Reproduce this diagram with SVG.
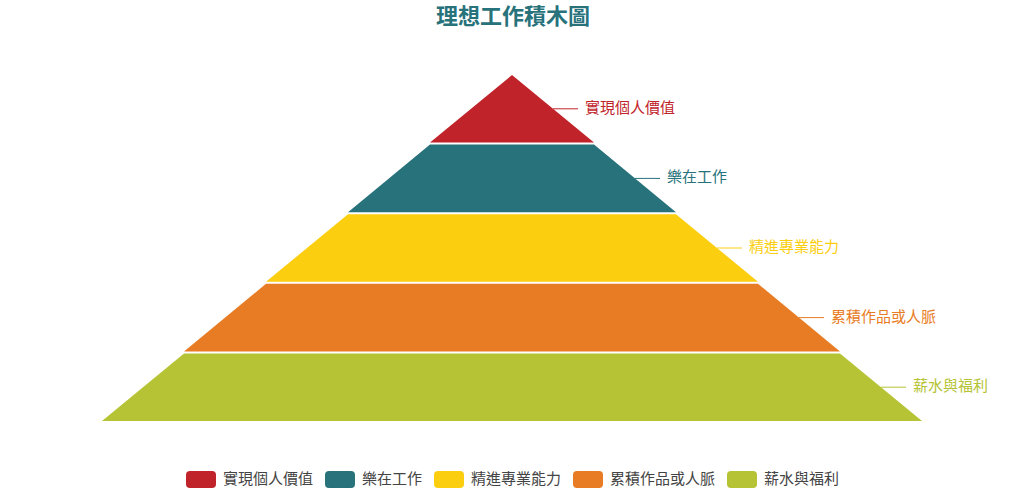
<svg xmlns="http://www.w3.org/2000/svg" width="1024" height="496" viewBox="0 0 1024 496">
<style>
text{font-family:"Liberation Sans","Noto Sans CJK TC",sans-serif;}
.title{font-size:22px;font-weight:bold;fill:#27727b;}
.lbl{font-size:15px;}
.leg{font-size:15px;fill:#444;}
.ll{stroke-width:1;fill:none;}
</style>
<rect width="1024" height="496" fill="#fff"/>
<text class="title" x="513" y="24" text-anchor="middle">理想工作積木圖</text>
<g id="layer1">
<polygon points="512,75 512,75 594,142.6 430,142.6" fill="#c1232b"/>
<text class="lbl" x="585" y="109" dominant-baseline="middle" fill="#c1232b">實現個人價值</text>
</g>
<g id="layer2">
<polygon points="430,144.6 594,144.6 676,212.2 348,212.2" fill="#27727b"/>
<text class="lbl" x="667" y="178.4" dominant-baseline="middle" fill="#27727b">樂在工作</text>
</g>
<g id="layer3">
<polygon points="348,214.2 676,214.2 758,281.8 266,281.8" fill="#fcce10"/>
<text class="lbl" x="749" y="248" dominant-baseline="middle" fill="#fcce10">精進專業能力</text>
</g>
<g id="layer4">
<polygon points="266,283.8 758,283.8 840,351.4 184,351.4" fill="#e87c25"/>
<text class="lbl" x="831" y="317.6" dominant-baseline="middle" fill="#e87c25">累積作品或人脈</text>
</g>
<g id="layer5">
<polygon points="184,353.4 840,353.4 922,421 102,421" fill="#b5c334"/>
<text class="lbl" x="913" y="387.2" dominant-baseline="middle" fill="#b5c334">薪水與福利</text>
</g>
<g id="connectors">
<line class="ll" x1="553" y1="108.8" x2="578" y2="108.8" stroke="#c1232b"/>
<line class="ll" x1="635" y1="178.4" x2="660" y2="178.4" stroke="#27727b"/>
<line class="ll" x1="717" y1="248" x2="742" y2="248" stroke="#fcce10"/>
<line class="ll" x1="799" y1="317.6" x2="824" y2="317.6" stroke="#e87c25"/>
<line class="ll" x1="881" y1="387.2" x2="906" y2="387.2" stroke="#b5c334"/>
</g>
<g id="legend">
<rect x="186" y="471" width="30" height="17" rx="4" fill="#c1232b"/>
<text class="leg" x="223" y="480" dominant-baseline="middle">實現個人價值</text>
<rect x="325" y="471" width="30" height="17" rx="4" fill="#27727b"/>
<text class="leg" x="362" y="480" dominant-baseline="middle">樂在工作</text>
<rect x="434" y="471" width="30" height="17" rx="4" fill="#fcce10"/>
<text class="leg" x="471" y="480" dominant-baseline="middle">精進專業能力</text>
<rect x="573" y="471" width="30" height="17" rx="4" fill="#e87c25"/>
<text class="leg" x="610" y="480" dominant-baseline="middle">累積作品或人脈</text>
<rect x="727" y="471" width="30" height="17" rx="4" fill="#b5c334"/>
<text class="leg" x="764" y="480" dominant-baseline="middle">薪水與福利</text>
</g>
</svg>
